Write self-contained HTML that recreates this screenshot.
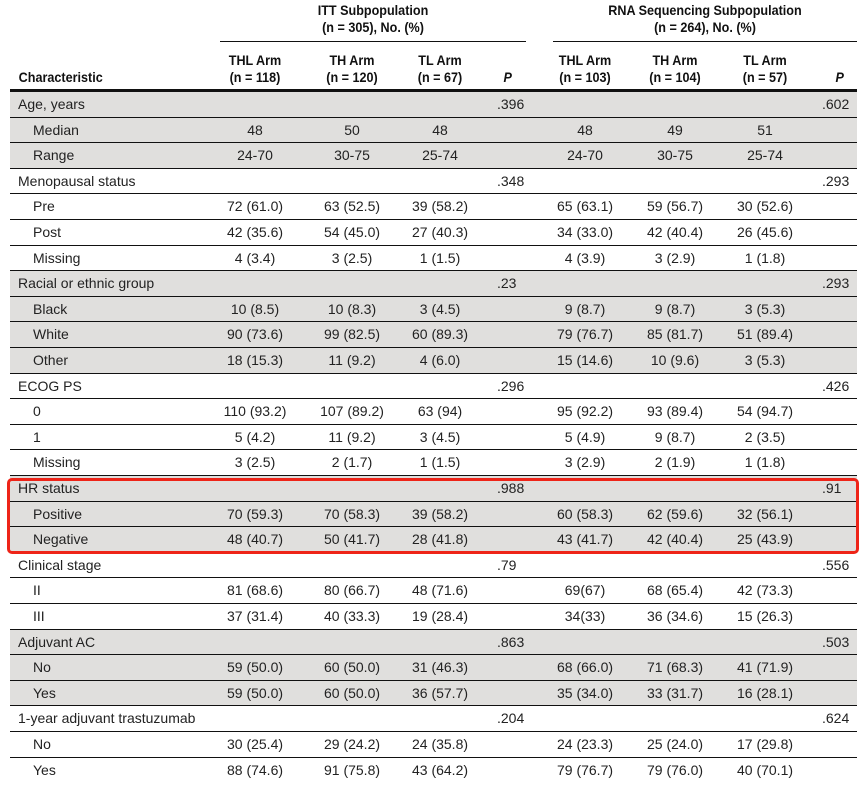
<!DOCTYPE html>
<html><head><meta charset="utf-8">
<style>
html,body{margin:0;padding:0;background:#fff;}
body{width:867px;height:787px;position:relative;overflow:hidden;font-family:"Liberation Sans",sans-serif;color:#222;}
.h{position:absolute;font-family:"Liberation Sans Narrow","Liberation Sans",sans-serif;font-weight:bold;font-size:14px;text-align:center;line-height:17px;color:#111;transform:scaleX(0.9);}
.row{position:absolute;left:10px;width:847px;height:25.6px;border-bottom:1px solid #111;box-sizing:border-box;}
.g{background:#e0dfdd;}
.t{position:absolute;font-size:14px;line-height:25px;white-space:nowrap;}
.c{transform:translateX(-50%);}
.line{position:absolute;background:#111;}
</style></head><body>
<div class="h" style="left:220px;width:306px;top:2px;">ITT Subpopulation<br>(n = 305), No. (%)</div>
<div class="h" style="left:553px;width:304px;top:2px;">RNA Sequencing Subpopulation<br>(n = 264), No. (%)</div>
<div class="line" style="left:220px;width:306px;top:41px;height:1px;"></div>
<div class="line" style="left:553px;width:304px;top:41px;height:1px;"></div>
<div class="h" style="left:14px;top:69px;text-align:left;">Characteristic</div>
<div class="h" style="left:215px;width:80px;top:52px;">THL Arm<br>(n = 118)</div>
<div class="h" style="left:312px;width:80px;top:52px;">TH Arm<br>(n = 120)</div>
<div class="h" style="left:400px;width:80px;top:52px;">TL Arm<br>(n = 67)</div>
<div class="h" style="left:503px;top:69px;font-style:italic;">P</div>
<div class="h" style="left:545px;width:80px;top:52px;">THL Arm<br>(n = 103)</div>
<div class="h" style="left:635px;width:80px;top:52px;">TH Arm<br>(n = 104)</div>
<div class="h" style="left:725px;width:80px;top:52px;">TL Arm<br>(n = 57)</div>
<div class="h" style="left:835px;top:69px;font-style:italic;">P</div>
<div class="line" style="left:10px;width:847px;top:89px;height:3px;"></div>
<div id="tb"></div>
<div style="position:absolute;left:7px;top:478px;width:852px;height:76px;border:3px solid #ee2418;border-radius:5px;box-sizing:border-box;"></div>
<script>
var R=[
["Age, years",1,"","","",".396","","","",".602"],
["Median",0,"48","50","48","","48","49","51",""],
["Range",0,"24-70","30-75","25-74","","24-70","30-75","25-74",""],
["Menopausal status",1,"","","",".348","","","",".293"],
["Pre",0,"72 (61.0)","63 (52.5)","39 (58.2)","","65 (63.1)","59 (56.7)","30 (52.6)",""],
["Post",0,"42 (35.6)","54 (45.0)","27 (40.3)","","34 (33.0)","42 (40.4)","26 (45.6)",""],
["Missing",0,"4 (3.4)","3 (2.5)","1 (1.5)","","4 (3.9)","3 (2.9)","1 (1.8)",""],
["Racial or ethnic group",1,"","","",".23","","","",".293"],
["Black",0,"10 (8.5)","10 (8.3)","3 (4.5)","","9 (8.7)","9 (8.7)","3 (5.3)",""],
["White",0,"90 (73.6)","99 (82.5)","60 (89.3)","","79 (76.7)","85 (81.7)","51 (89.4)",""],
["Other",0,"18 (15.3)","11 (9.2)","4 (6.0)","","15 (14.6)","10 (9.6)","3 (5.3)",""],
["ECOG PS",1,"","","",".296","","","",".426"],
["0",0,"110 (93.2)","107 (89.2)","63 (94)","","95 (92.2)","93 (89.4)","54 (94.7)",""],
["1",0,"5 (4.2)","11 (9.2)","3 (4.5)","","5 (4.9)","9 (8.7)","2 (3.5)",""],
["Missing",0,"3 (2.5)","2 (1.7)","1 (1.5)","","3 (2.9)","2 (1.9)","1 (1.8)",""],
["HR status",1,"","","",".988","","","",".91"],
["Positive",0,"70 (59.3)","70 (58.3)","39 (58.2)","","60 (58.3)","62 (59.6)","32 (56.1)",""],
["Negative",0,"48 (40.7)","50 (41.7)","28 (41.8)","","43 (41.7)","42 (40.4)","25 (43.9)",""],
["Clinical stage",1,"","","",".79","","","",".556"],
["II",0,"81 (68.6)","80 (66.7)","48 (71.6)","","69(67)","68 (65.4)","42 (73.3)",""],
["III",0,"37 (31.4)","40 (33.3)","19 (28.4)","","34(33)","36 (34.6)","15 (26.3)",""],
["Adjuvant AC",1,"","","",".863","","","",".503"],
["No",0,"59 (50.0)","60 (50.0)","31 (46.3)","","68 (66.0)","71 (68.3)","41 (71.9)",""],
["Yes",0,"59 (50.0)","60 (50.0)","36 (57.7)","","35 (34.0)","33 (31.7)","16 (28.1)",""],
["1-year adjuvant trastuzumab",1,"","","",".204","","","",".624"],
["No",0,"30 (25.4)","29 (24.2)","24 (35.8)","","24 (23.3)","25 (24.0)","17 (29.8)",""],
["Yes",0,"88 (74.6)","91 (75.8)","43 (64.2)","","79 (76.7)","79 (76.0)","40 (70.1)",""]];
var X=[255,352,440,0,585,675,765];
var h="",grp=-1;
R.forEach(function(r,i){
 if(r[1])grp++;
 var top=92+i*25.6;
 var last=i==R.length-1;
 h+='<div class="row'+(grp%2==0?' g':'')+'" style="top:'+top+'px;'+(last?'border-bottom:none;':'')+'">';
 h+='<div class="t" style="left:'+(r[1]?8:23)+'px">'+r[0]+'</div>';
 for(var k=0;k<7;k++){var v=r[2+k];if(!v)continue;
  if(k==3)h+='<div class="t" style="left:487px">'+v+'</div>';
  else h+='<div class="t c" style="left:'+(X[k]-10)+'px">'+v+'</div>';}
 if(r[9])h+='<div class="t" style="left:812px">'+r[9]+'</div>';
 h+='</div>';
});
document.getElementById('tb').innerHTML=h;
</script>
</body></html>
